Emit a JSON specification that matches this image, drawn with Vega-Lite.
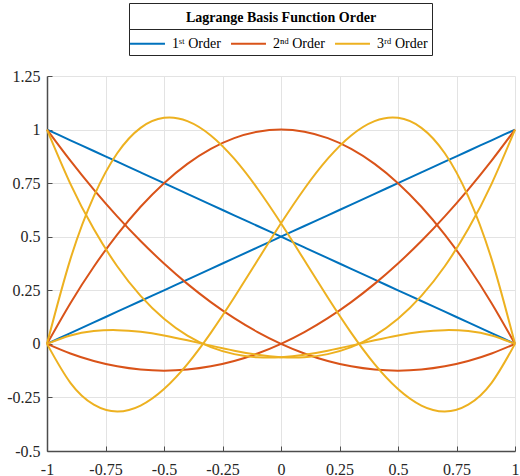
{
  "$schema": "https://vega.github.io/schema/vega-lite/v6.json",
  "width": 468,
  "height": 375,
  "autosize": {"type": "none"},
  "padding": {"left": 47, "top": 76, "right": 5, "bottom": 25},
  "config": {
    "locale": {"number": {"decimal": ".", "thousands": ",", "grouping": [3], "currency": ["$", ""], "minus": "-"}},
    "font": "Liberation Serif",
    "view": {"stroke": null},
    "axis": {
      "domainColor": "#4d4d4d",
      "domainWidth": 1.5,
      "tickColor": "#4d4d4d",
      "tickSize": -5,
      "tickWidth": 1,
      "gridColor": "#e3e3e3",
      "gridWidth": 1,
      "labelFont": "Liberation Serif",
      "labelFontSize": 16,
      "labelColor": "#262626",
      "labelFlush": false,
      "labelOverlap": false,
      "title": null
    },
    "legend": {
      "labelFont": "Liberation Serif",
      "titleFont": "Liberation Serif"
    }
  },
  "data": {"values": [
    {"x":-1,"p0":1,"p1":0,"q0":1,"q1":0,"q2":0,"c0":1,"c1":0,"c2":0,"c3":0},
    {"x":-0.9,"p0":0.95,"p1":0.05,"q0":0.855,"q1":0.19,"q2":-0.045,"c0":0.7469,"c1":0.3954,"c2":-0.1817,"c3":0.0393},
    {"x":-0.8,"p0":0.9,"p1":0.1,"q0":0.72,"q1":0.36,"q2":-0.08,"c0":0.5355,"c1":0.6885,"c2":-0.2835,"c3":0.0595},
    {"x":-0.7,"p0":0.85,"p1":0.15,"q0":0.595,"q1":0.51,"q2":-0.105,"c0":0.3623,"c1":0.8893,"c2":-0.3156,"c3":0.0639},
    {"x":-0.6,"p0":0.8,"p1":0.2,"q0":0.48,"q1":0.64,"q2":-0.12,"c0":0.224,"c1":1.008,"c2":-0.288,"c3":0.056},
    {"x":-0.5,"p0":0.75,"p1":0.25,"q0":0.375,"q1":0.75,"q2":-0.125,"c0":0.1172,"c1":1.0547,"c2":-0.2109,"c3":0.0391},
    {"x":-0.4,"p0":0.7,"p1":0.3,"q0":0.28,"q1":0.84,"q2":-0.12,"c0":0.0385,"c1":1.0395,"c2":-0.0945,"c3":0.0165},
    {"x":-0.3,"p0":0.65,"p1":0.35,"q0":0.195,"q1":0.91,"q2":-0.105,"c0":-0.0154,"c1":0.9726,"c2":0.0512,"c3":-0.0083},
    {"x":-0.2,"p0":0.6,"p1":0.4,"q0":0.12,"q1":0.96,"q2":-0.08,"c0":-0.048,"c1":0.864,"c2":0.216,"c3":-0.032},
    {"x":-0.1,"p0":0.55,"p1":0.45,"q0":0.055,"q1":0.99,"q2":-0.045,"c0":-0.0626,"c1":0.7239,"c2":0.3898,"c3":-0.0512},
    {"x":0,"p0":0.5,"p1":0.5,"q0":0,"q1":1,"q2":0,"c0":-0.0625,"c1":0.5625,"c2":0.5625,"c3":-0.0625},
    {"x":0.1,"p0":0.45,"p1":0.55,"q0":-0.045,"q1":0.99,"q2":0.055,"c0":-0.0512,"c1":0.3898,"c2":0.7239,"c3":-0.0626},
    {"x":0.2,"p0":0.4,"p1":0.6,"q0":-0.08,"q1":0.96,"q2":0.12,"c0":-0.032,"c1":0.216,"c2":0.864,"c3":-0.048},
    {"x":0.3,"p0":0.35,"p1":0.65,"q0":-0.105,"q1":0.91,"q2":0.195,"c0":-0.0083,"c1":0.0512,"c2":0.9726,"c3":-0.0154},
    {"x":0.4,"p0":0.3,"p1":0.7,"q0":-0.12,"q1":0.84,"q2":0.28,"c0":0.0165,"c1":-0.0945,"c2":1.0395,"c3":0.0385},
    {"x":0.5,"p0":0.25,"p1":0.75,"q0":-0.125,"q1":0.75,"q2":0.375,"c0":0.0391,"c1":-0.2109,"c2":1.0547,"c3":0.1172},
    {"x":0.6,"p0":0.2,"p1":0.8,"q0":-0.12,"q1":0.64,"q2":0.48,"c0":0.056,"c1":-0.288,"c2":1.008,"c3":0.224},
    {"x":0.7,"p0":0.15,"p1":0.85,"q0":-0.105,"q1":0.51,"q2":0.595,"c0":0.0639,"c1":-0.3156,"c2":0.8893,"c3":0.3623},
    {"x":0.8,"p0":0.1,"p1":0.9,"q0":-0.08,"q1":0.36,"q2":0.72,"c0":0.0595,"c1":-0.2835,"c2":0.6885,"c3":0.5355},
    {"x":0.9,"p0":0.05,"p1":0.95,"q0":-0.045,"q1":0.19,"q2":0.855,"c0":0.0393,"c1":-0.1817,"c2":0.3954,"c3":0.7469},
    {"x":1,"p0":0,"p1":1,"q0":0,"q1":0,"q2":1,"c0":0,"c1":0,"c2":0,"c3":1}
  ]},
  "encoding": {
    "x": {
      "field": "x", "type": "quantitative",
      "scale": {"domain": [-1, 1], "nice": false},
      "axis": {"values": [-1, -0.75, -0.5, -0.25, 0, 0.25, 0.5, 0.75, 1], "format": ".2~f", "labelPadding": 15}
    },
    "y": {
      "field": "y", "type": "quantitative",
      "scale": {"domain": [-0.5, 1.25], "nice": false, "zero": false},
      "axis": {"values": [-0.5, -0.25, 0, 0.25, 0.5, 0.75, 1, 1.25], "format": ".2~f", "labelPadding": 12}
    },
    "color": {
      "scale": {"domain": ["1ˢᵗ Order", "2ⁿᵈ Order", "3ʳᵈ Order"], "range": ["#0072BD", "#D95319", "#EDB120"]},
      "legend": {
        "orient": "none",
        "legendX": 82,
        "legendY": -47,
        "direction": "horizontal",
        "title": null,
        "labelFontSize": 14,
        "labelColor": "#000000",
        "labelOffset": 14,
        "columnPadding": 6,
        "symbolType": "M-1.84,0H1.84",
        "symbolSize": 361,
        "symbolOffset": 4,
        "symbolStrokeWidth": 2,
        "strokeColor": "#262626",
        "fillColor": "#ffffff",
        "padding": 4,
        "zindex": 1
      }
    },
    "detail": {"field": "curve", "type": "nominal"}
  },
  "layer": [
    {
      "transform": [{"fold": ["p0", "p1"], "as": ["curve", "y"]}],
      "mark": {"type": "line", "strokeWidth": 2, "interpolate": "natural"},
      "encoding": {"color": {"datum": "1ˢᵗ Order"}}
    },
    {
      "transform": [{"fold": ["q0", "q1", "q2"], "as": ["curve", "y"]}],
      "mark": {"type": "line", "strokeWidth": 2, "interpolate": "natural"},
      "encoding": {"color": {"datum": "2ⁿᵈ Order"}}
    },
    {
      "transform": [{"fold": ["c0", "c1", "c2", "c3"], "as": ["curve", "y"]}],
      "mark": {"type": "line", "strokeWidth": 2, "interpolate": "natural"},
      "encoding": {
        "color": {"datum": "3ʳᵈ Order"},
        "opacity": {
          "field": "curve", "type": "nominal",
          "scale": {"range": [1, 1]},
          "legend": {
            "orient": "none",
            "legendX": 82,
            "legendY": -73,
            "direction": "horizontal",
            "values": ["c0", "c1", "c2"],
            "labelExpr": "''",
            "title": "Lagrange Basis Function Order",
            "titleLimit": 600,
            "titleFontSize": 14,
            "titleFontWeight": "bold",
            "titleColor": "#000000",
            "titleAnchor": "middle",
            "titleOrient": "top",
            "titleBaseline": "line-top",
            "titleLineHeight": 22,
            "titlePadding": 4,
            "labelFontSize": 14,
            "labelOffset": 14,
            "columnPadding": 82,
            "symbolType": "M-1.84,0H1.84",
            "symbolSize": 361,
            "symbolOffset": 4,
            "symbolStrokeWidth": 2,
            "symbolOpacity": 0,
            "strokeColor": "#262626",
            "fillColor": "#ffffff",
            "padding": 4,
            "zindex": 0,
            "encode": {"symbols": {"opacity": {"value": 0}}}
          }
        }
      }
    }
  ]
}
